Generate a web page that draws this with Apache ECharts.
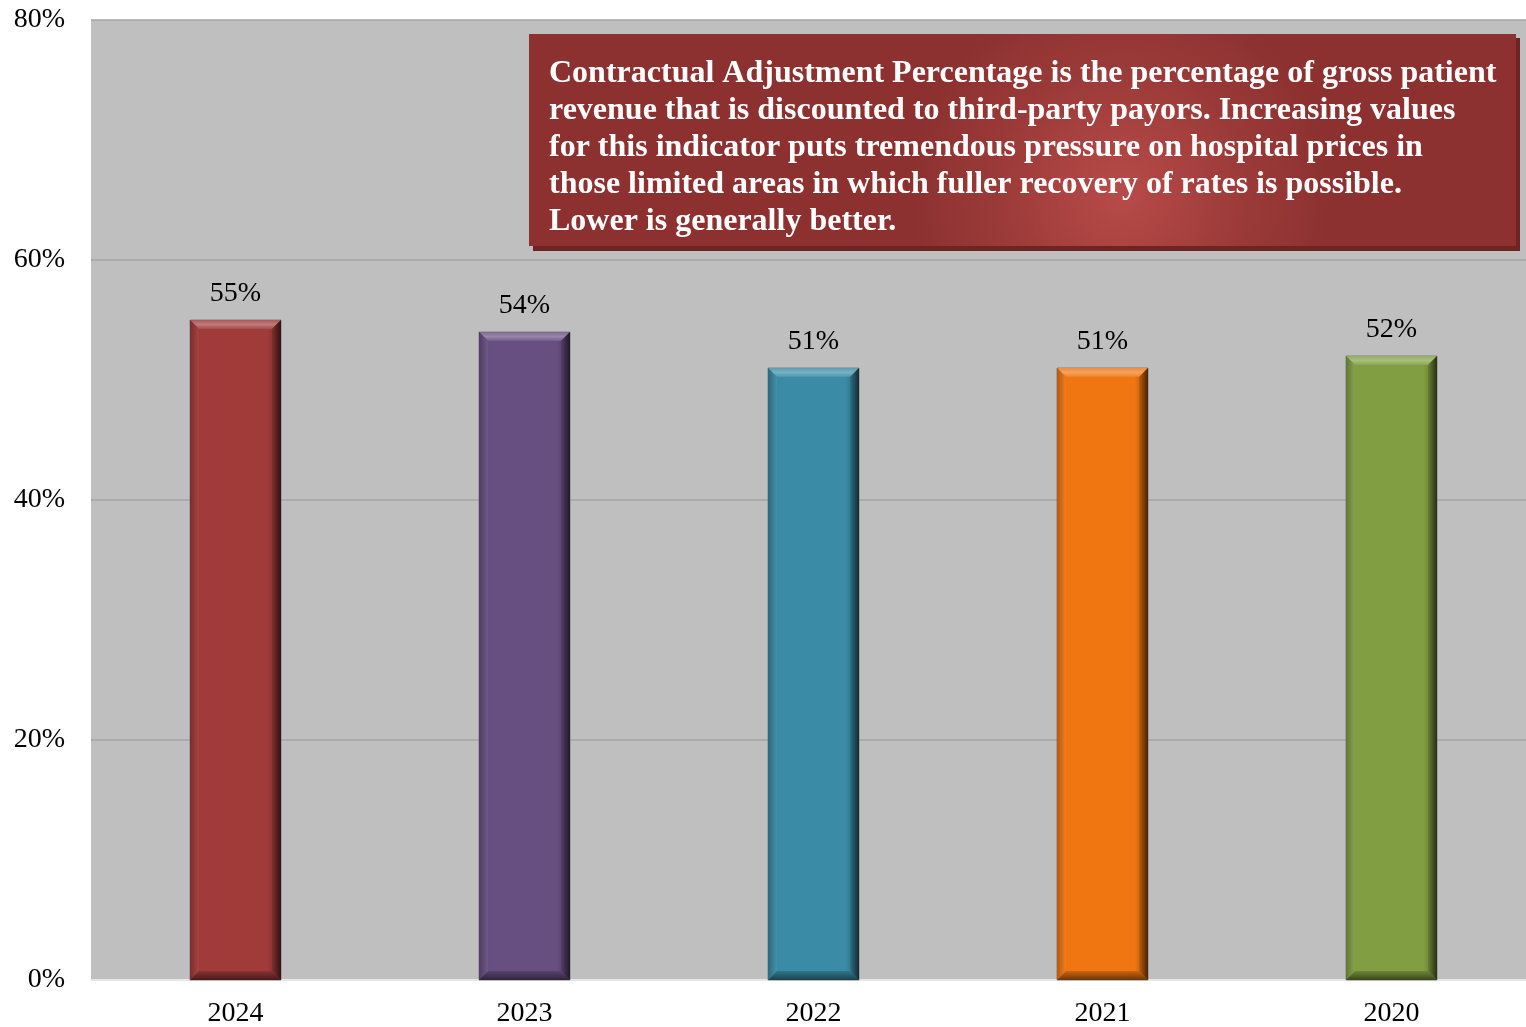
<!DOCTYPE html>
<html>
<head>
<meta charset="utf-8">
<script src="https://cdn.jsdelivr.net/npm/echarts@6/dist/echarts.min.js"></script>
<style>
html,body{margin:0;padding:0;background:#fff;}
#chart{width:1526px;height:1027px;}
</style>
</head>
<body>
<div id="chart"></div>
<script>
// Contractual adjustment percentage by fiscal year
const years = ['2024', '2023', '2022', '2021', '2020'];
const values = [55, 54, 51, 51, 52];
const barColors = ['#A03B3A', '#684F82', '#3A8CA6', '#F07612', '#819E43'];
const yTicks = [0, 20, 40, 60, 80];
const noteText = [
  'Contractual Adjustment Percentage is the percentage of gross patient',
  'revenue that is discounted to third-party payors. Increasing values',
  'for this indicator puts tremendous pressure on hospital prices in',
  'those limited areas in which fuller recovery of rates is possible.',
  'Lower is generally better.'
];

const SERIF = '"Liberation Serif", "Times New Roman", serif';
const BAR_W = 91;
const BEVEL = 9;

const chart = echarts.init(document.getElementById('chart'), null, { renderer: 'canvas' });

function shade(hex, amt) {
  const n = parseInt(hex.slice(1), 16);
  let r = (n >> 16) & 255, g = (n >> 8) & 255, b = n & 255;
  const f = c => amt >= 0 ? Math.round(c + (255 - c) * amt) : Math.round(c * (1 + amt));
  return 'rgb(' + f(r) + ',' + f(g) + ',' + f(b) + ')';
}

// bevelled bar faces built from the axis coordinates
function renderBevel(params, api) {
  const idx = api.value(0);
  const v = api.value(1);
  const top = api.coord([idx, v]);
  const base = api.coord([idx, 0]);
  const x0 = top[0] - BAR_W / 2, x1 = top[0] + BAR_W / 2;
  const y0 = top[1], y1 = base[1];
  const c = barColors[idx];
  const b = BEVEL;
  return {
    type: 'group',
    children: [
      { type: 'rect', shape: { x: x0, y: y0, width: BAR_W, height: y1 - y0 },
        style: { fill: {
          type: 'linear', x: 0, y: 0, x2: 1, y2: 0,
          colorStops: [
            { offset: 0, color: shade(c, -0.12) },
            { offset: 0.12, color: c },
            { offset: 0.85, color: c },
            { offset: 1, color: shade(c, -0.35) }
          ] }, stroke: 'rgba(90,90,90,0.6)', lineWidth: 1 } },
      // top face
      { type: 'polygon', shape: { points: [[x0, y0], [x1, y0], [x1 - b, y0 + b], [x0 + b, y0 + b]] },
        style: { fill: { type: 'linear', x: 0, y: 0, x2: 0, y2: 1,
          colorStops: [{ offset: 0, color: shade(c, 0.15) }, { offset: 0.5, color: shade(c, 0.32) }, { offset: 1, color: shade(c, 0.08) }] } } },
      // left face
      { type: 'polygon', shape: { points: [[x0, y0], [x0 + b, y0 + b], [x0 + b, y1 - b], [x0, y1]] },
        style: { fill: { type: 'linear', x: 0, y: 0, x2: 1, y2: 0,
          colorStops: [{ offset: 0, color: shade(c, -0.25) }, { offset: 1, color: shade(c, 0.05) }] } } },
      // right face
      { type: 'polygon', shape: { points: [[x1, y0], [x1, y1], [x1 - b, y1 - b], [x1 - b, y0 + b]] },
        style: { fill: { type: 'linear', x: 0, y: 0, x2: 1, y2: 0,
          colorStops: [{ offset: 0, color: shade(c, -0.2) }, { offset: 1, color: shade(c, -0.7) }] } } },
      // bottom face
      { type: 'polygon', shape: { points: [[x0, y1], [x0 + b, y1 - b], [x1 - b, y1 - b], [x1, y1]] },
        style: { fill: { type: 'linear', x: 0, y: 0, x2: 0, y2: 1,
          colorStops: [{ offset: 0, color: shade(c, -0.15) }, { offset: 1, color: shade(c, -0.55) }] } } }
    ]
  };
}

const option = {
  animation: false,
  grid: { left: 91, width: 1445, top: 20, bottom: 47, show: true, backgroundColor: '#BFBFBF', borderWidth: 0,
    containLabel: false, outerBoundsMode: 'none' },
  xAxis: {
    type: 'category',
    data: years,
    axisLine: { show: true, lineStyle: { color: '#E6E6E6', width: 2 } },
    axisTick: { show: false },
    axisLabel: { color: '#000', fontFamily: SERIF, fontSize: 28, margin: 20 }
  },
  yAxis: {
    type: 'value',
    min: 0, max: 80, interval: 20,
    axisLine: { show: false },
    axisTick: { show: false },
    splitLine: { lineStyle: { color: '#A5A5A5', width: 1.5 } },
    axisLabel: { color: '#000', fontFamily: SERIF, fontSize: 28, margin: 26,
      formatter: v => yTicks.includes(v) ? v + '%' : '' }
  },
  series: [
    {
      type: 'custom',
      renderItem: renderBevel,
      data: values.map((v, i) => [i, v]),
      z: 3
    },
    {
      type: 'bar',
      data: values,
      barWidth: BAR_W,
      itemStyle: { color: 'rgba(0,0,0,0)' },
      label: { show: true, position: 'top', distance: 12, color: '#000', fontFamily: SERIF, fontSize: 28,
        formatter: p => p.value + '%' },
      z: 4
    }
  ],
  graphic: [
    { type: 'rect', left: 533, top: 38, shape: { width: 987, height: 213 }, style: { fill: '#6E2423' }, z: 10 },
    { type: 'rect', left: 529, top: 34, shape: { width: 987, height: 212 },
      style: { fill: { type: 'radial', x: 0.6, y: 0.75, r: 1.0,
        colorStops: [{ offset: 0, color: '#B84B49' }, { offset: 0.6, color: '#9A3A38' }, { offset: 1, color: '#8C3130' }] } }, z: 11 },
    { type: 'text', left: 549, top: 55, z: 12,
      style: { text: noteText.join('\n'), fill: '#fff', font: 'bold 32px ' + SERIF, lineHeight: 37 } }
  ]
};
chart.setOption(option);
</script>
</body>
</html>
